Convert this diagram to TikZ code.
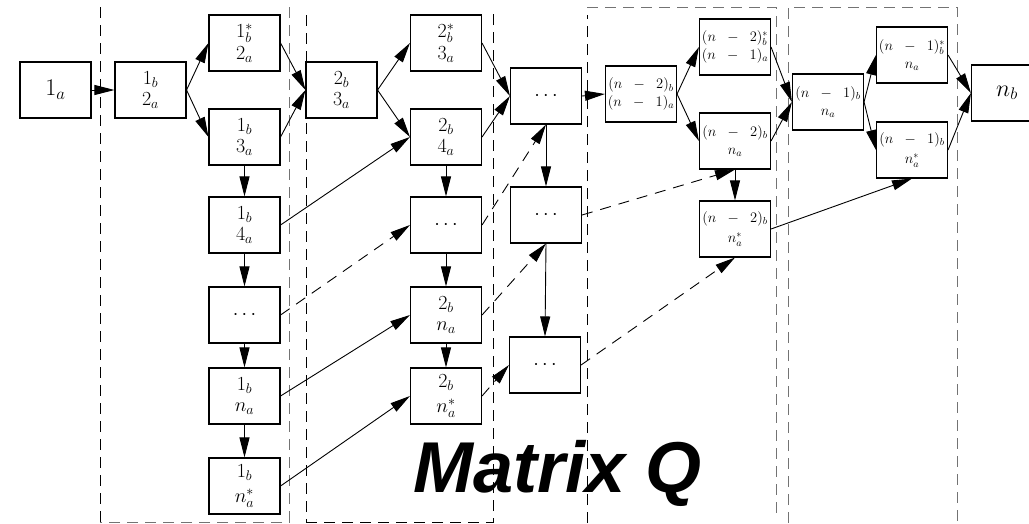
\RequirePackage{fix-cm}
\documentclass[tikz,border=0pt]{standalone}
\usepackage{fontspec}
\newfontfamily\matfont{Liberation Sans}
\usetikzlibrary{arrows.meta}
\newcommand{\mmin}{\mkern10mu-\mkern10mu}
\tikzset{
  box/.style={draw, line width=1.1pt, minimum width=71pt, minimum height=56pt, inner sep=0pt, align=center, font=\fontsize{20}{21.5}\selectfont},
  starbox/.style={box, font=\fontsize{20}{25}\selectfont},
  smalltext/.style={font=\fontsize{14.5}{17.5}\selectfont},
  smallstar/.style={font=\fontsize{14.5}{20}\selectfont},
  bigtext/.style={font=\fontsize{24}{26}\selectfont},
  arr/.style={-{Triangle[length=20pt,width=10pt]}, line width=0.9pt},
  darr/.style={arr, dash pattern=on 11pt off 8pt},
  frameblack/.style={line width=1pt, dash pattern=on 11pt off 7pt},
  framegray/.style={line width=1pt, draw=black!55, dash pattern=on 11pt off 7pt},
}
\begin{document}
\begin{tikzpicture}[x=1pt,y=-1pt]
\useasboundingbox (0,0) rectangle (1029,523);
% dashed frames
\draw[frameblack] (100,7) -- (100,523);
\draw[framegray] (289,7) -- (289,522) -- (100,522);
\draw[frameblack] (306,15) -- (306,523);
\draw[frameblack] (306,522) -- (493,522) -- (493,7);
\draw[frameblack] (587,523) -- (587,15);
\draw[framegray] (587,7) -- (776,7) -- (776,515);
\draw[framegray] (788,523) -- (788,7) -- (957,7) -- (957,523);
% nodes
\node[box,bigtext] (n1a) at (55.5,90) {$1_a$};
\node[box] (c1) at (150.5,90) {$1_b$\\$2_a$};
\node[box] (c1s) at (244.5,43) {$1^*_b$\\$2_a$};
\node[box] (c13) at (244.5,137) {$1_b$\\$3_a$};
\node[box] (c14) at (244.5,225) {$1_b$\\$4_a$};
\node[box] (c1d) at (244.5,315) {$\cdots$};
\node[box] (c1n) at (244.5,396) {$1_b$\\$n_a$};
\node[starbox] (c1ns) at (244.5,486) {$1_b$\\$n^*_a$};
\node[box] (c2) at (341.5,90) {$2_b$\\$3_a$};
\node[box] (c2s) at (446,43) {$2^*_b$\\$3_a$};
\node[box] (c24) at (446,137) {$2_b$\\$4_a$};
\node[box] (c2d) at (446,225) {$\cdots$};
\node[box] (c2n) at (446,315) {$2_b$\\$n_a$};
\node[starbox] (c2ns) at (446,396) {$2_b$\\$n^*_a$};
\node[box] (d1) at (546,96) {$\cdots$};
\node[box] (d2) at (546,215) {$\cdots$};
\node[box] (d3) at (545,365) {$\cdots$};
\node[box,smalltext] (m1) at (641,94) {$(n\mmin2)_b$\\$(n\mmin1)_a$};
\node[box,smalltext] (m1s) at (735,47) {$(n\mmin2)^*_b$\\$(n\mmin1)_a$};
\node[box,smalltext] (m2) at (735,141) {$(n\mmin2)_b$\\$n_a$};
\node[box,smallstar] (m2s) at (735,229) {$(n\mmin2)_b$\\$n^*_a$};
\node[box,smalltext] (p1) at (828,102) {$(n\mmin1)_b$\\$n_a$};
\node[box,smalltext] (p1s) at (912,55) {$(n\mmin1)^*_b$\\$n_a$};
\node[box,smallstar] (p2) at (912,150) {$(n\mmin1)_b$\\$n^*_a$};
\node[box,bigtext] (nb) at (1007,93) {$n_b$};
\node[anchor=base west, inner sep=0pt, font=\matfont\bfseries\itshape\fontsize{72}{72}\selectfont] (title) at (413,492) {Matrix Q};
% solid edges
\draw[arr] (n1a.east) -- (c1.west);
\draw[arr] (c1.east) -- (c1s.west);
\draw[arr] (c1.east) -- (c13.west);
\draw[arr] (c1s.east) -- (c2.west);
\draw[arr] (c13.east) -- (c2.west);
\draw[arr] (c13.south) -- (c14.north);
\draw[arr] (c14.south) -- (c1d.north);
\draw[arr] (c1d.south) -- (c1n.north);
\draw[arr] (c1n.south) -- (c1ns.north);
\draw[arr] (c14.east) -- (c24.west);
\draw[arr] (c1n.east) -- (c2n.west);
\draw[arr] (c1ns.east) -- (c2ns.west);
\draw[arr] (c2.east) -- (c2s.west);
\draw[arr] (c2.east) -- (c24.west);
\draw[arr] (c2s.east) -- (d1.west);
\draw[arr] (c24.east) -- (d1.west);
\draw[arr] (c24.south) -- (c2d.north);
\draw[arr] (c2d.south) -- (c2n.north);
\draw[arr] (c2n.south) -- (c2ns.north);
\draw[arr] (d1.south) -- (d2.north);
\draw[arr] (d2.south) -- (d3.north);
\draw[arr] (d1.east) -- (m1.west);
\draw[arr] (m1.east) -- (m1s.west);
\draw[arr] (m1.east) -- (m2.west);
\draw[arr] (m1s.east) -- (p1.west);
\draw[arr] (m2.east) -- (p1.west);
\draw[arr] (m2.south) -- (m2s.north);
\draw[arr] (m2s.east) -- (p2.south);
\draw[arr] (p1.east) -- (p1s.west);
\draw[arr] (p1.east) -- (p2.west);
\draw[arr] (p1s.east) -- (nb.west);
\draw[arr] (p2.east) -- (nb.west);
% dashed edges
\draw[darr] (c1d.east) -- (c2d.west);
\draw[darr] (c2d.east) -- (d1.south);
\draw[darr] (c2n.east) -- (d2.south);
\draw[darr] (c2ns.east) -- (d3.west);
\draw[darr] (d2.east) -- (m2.south);
\draw[darr] (d3.east) -- (m2s.south);
\end{tikzpicture}
\end{document}
